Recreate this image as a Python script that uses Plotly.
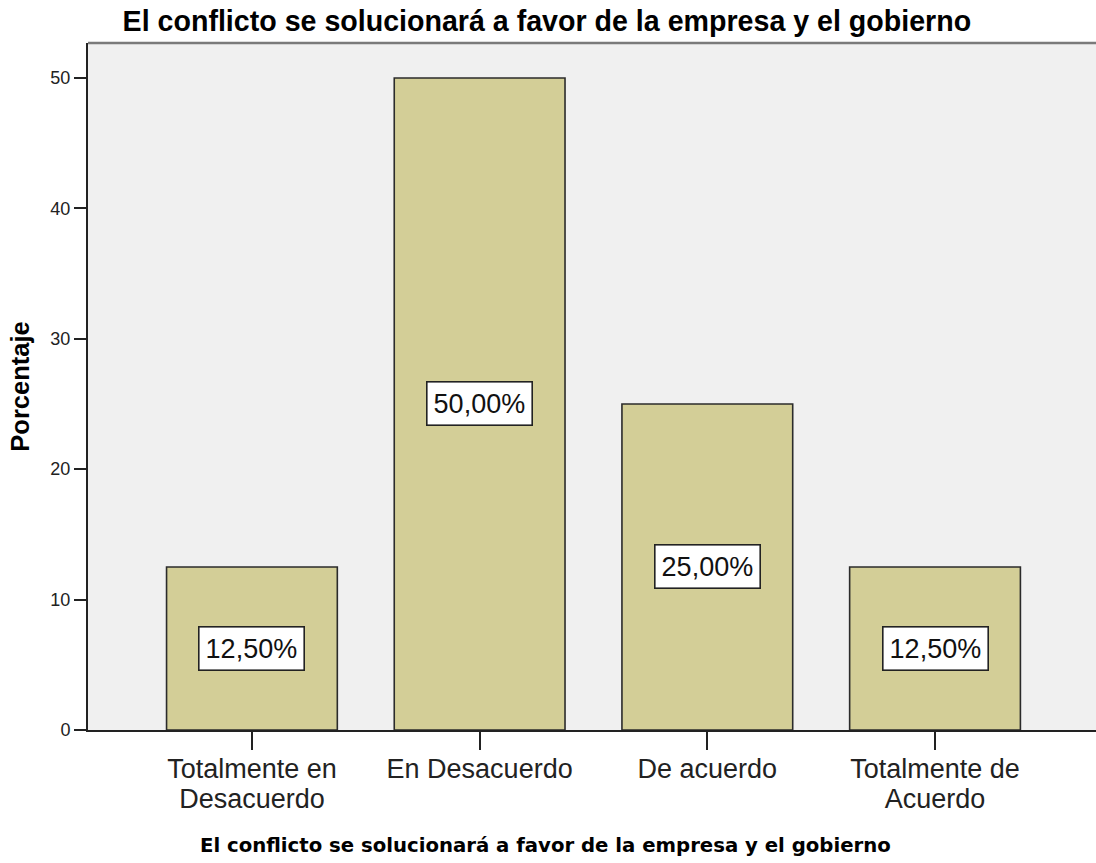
import plotly.graph_objects as go

categories = [["Totalmente en", "Desacuerdo"], ["En Desacuerdo"], ["De acuerdo"], ["Totalmente de", "Acuerdo"]]
percentages = [12.5, 50.0, 25.0, 12.5]
y_ticks = [0, 10, 20, 30, 40, 50]
title_text = "El conflicto se solucionará a favor de la empresa y el gobierno"
x_title = "El conflicto se solucionará a favor de la empresa y el gobierno"
y_title = "Porcentaje"

x_pos = list(range(len(categories)))
tick_text = ["<br>".join(f"<span style='font-size:27px'>{ln}</span>" for ln in lines) for lines in categories]

fig = go.Figure()
fig.add_trace(go.Bar(
    x=x_pos, y=percentages, width=0.75,
    marker=dict(color="#D3CE97", line=dict(color="#2b2b2b", width=1.6)),
    hoverinfo="skip",
))

for xp, v in zip(x_pos, percentages):
    fig.add_annotation(
        x=xp, y=v / 2, text=f"{v:.2f}%".replace(".", ","), showarrow=False,
        font=dict(family="Liberation Sans, Arial", size=27, color="#111"),
        bgcolor="white", bordercolor="#222", borderwidth=1.6, borderpad=6,
    )

# x-axis title (centred on the page, as in the reference)
fig.add_annotation(
    xref="paper", yref="paper", x=(545 - 88) / 1008, y=(730 - 845) / 687,
    xanchor="center", yanchor="middle", showarrow=False,
    text=f"<b>{x_title}</b>",
    font=dict(family="DejaVu Sans, Verdana", size=19.7, color="black"),
)

fig.add_shape(type="line", xref="paper", yref="paper", x0=0, x1=1, y0=1, y1=1,
              line=dict(color="#7a7a7a", width=2.5))

fig.update_layout(
    width=1096, height=863,
    margin=dict(l=88, r=0, t=43, b=133),
    paper_bgcolor="white", plot_bgcolor="#F0F0F0",
    showlegend=False,
    title=dict(text=f"<b>{title_text}</b>", x=0.499, xanchor="center", y=1 - 21 / 863, yanchor="middle",
               font=dict(family="Liberation Sans, Arial", size=28.6, color="black")),
    bargap=0.25,
)
fig.update_xaxes(
    tickmode="array", tickvals=x_pos, ticktext=tick_text,
    range=[-0.72, 3.707],
    showline=True, linecolor="#222", linewidth=2,
    ticks="outside", ticklen=18, tickwidth=2, tickcolor="#222",
    tickfont=dict(family="Liberation Sans, Arial", size=23, color="#222"),
    showgrid=False, zeroline=False,
)
fig.update_yaxes(
    range=[0, 52.68], tickmode="array", tickvals=y_ticks,
    showline=True, linecolor="#222", linewidth=2,
    ticks="outside", ticklen=12, tickwidth=2, tickcolor="#222",
    tickfont=dict(family="Liberation Sans, Arial", size=18, color="#222"),
    showgrid=False, zeroline=False,
    title=dict(text=f"<b>{y_title}</b>", standoff=13,
               font=dict(family="Liberation Sans, Arial", size=25.5, color="black")),
)

fig.write_html("out.html", config={"displayModeBar": False},
               post_script="document.body.style.margin='0';document.body.style.overflow='hidden';")
